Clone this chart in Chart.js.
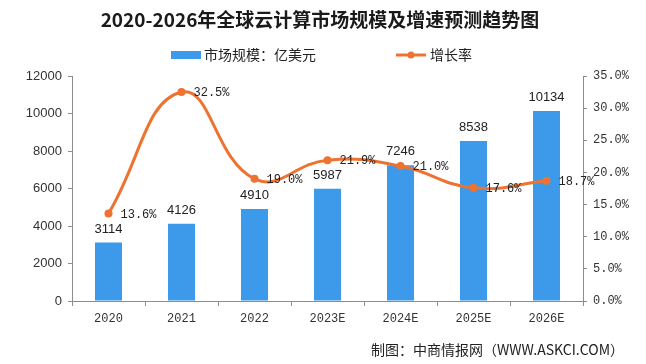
<!DOCTYPE html>
<html>
<head>
<meta charset="utf-8">
<script src="https://cdn.jsdelivr.net/npm/chart.js@4"></script>
<style>
  body { margin: 0; background: #fff; }
  #wrap { width: 646px; height: 364px; }
</style>
</head>
<body>
<div id="wrap"><canvas id="chart" width="646" height="364"></canvas></div>
<script>
const TITLE = '2020-2026年全球云计算市场规模及增速预测趋势图';
const SOURCE = '制图：中商情报网（WWW.ASKCI.COM）';
const years = ['2020', '2021', '2022', '2023E', '2024E', '2025E', '2026E'];
const marketSize = [3114, 4126, 4910, 5987, 7246, 8538, 10134];
const growthRate = [13.6, 32.5, 19.0, 21.9, 21.0, 17.6, 18.7];
const sizeTicks = [0, 2000, 4000, 6000, 8000, 10000, 12000];
const rateTicks = [0, 5, 10, 15, 20, 25, 30, 35];

const BLUE = '#3D9AEA';
const ORANGE = '#EE7230';
const AXIS = '#8c8c8c';

// 标题、图例、来源和数据标签
const decor = {
  id: 'decor',
  afterDatasetsDraw(chart) {
    const ctx = chart.ctx;
    ctx.save();
    // 柱子数值
    const bars = chart.getDatasetMeta(0).data;
    ctx.fillStyle = '#222';
    ctx.font = '13px "Liberation Sans", Arial, sans-serif';
    ctx.textAlign = 'center';
    ctx.textBaseline = 'alphabetic';
    bars.forEach((b, i) => {
      ctx.fillText(String(marketSize[i]), b.x, b.y - 10);
    });
    // 增长率
    const pts = chart.getDatasetMeta(1).data;
    ctx.font = '12px "Liberation Mono", monospace';
    ctx.textAlign = 'left';
    ctx.textBaseline = 'middle';
    pts.forEach((p, i) => {
      ctx.fillText(growthRate[i].toFixed(1) + '%', p.x + 12, p.y + 1);
    });
    ctx.restore();
  },
  afterDraw(chart) {
    const ctx = chart.ctx;
    ctx.save();
    ctx.fillStyle = '#1a1a1a';
    ctx.font = 'bold 19px "Noto Sans CJK SC", sans-serif';
    ctx.textAlign = 'center';
    ctx.textBaseline = 'middle';
    ctx.fillText(TITLE, 320, 20);

    // 图例
    ctx.font = '14px "Noto Sans CJK SC", sans-serif';
    ctx.textAlign = 'left';
    ctx.fillStyle = BLUE;
    ctx.fillRect(171, 51, 30, 8);
    ctx.fillStyle = '#222';
    ctx.fillText(chart.data.datasets[0].label, 204, 55);
    ctx.strokeStyle = ORANGE;
    ctx.lineWidth = 3;
    ctx.beginPath();
    ctx.moveTo(396, 55);
    ctx.lineTo(426, 55);
    ctx.stroke();
    ctx.fillStyle = ORANGE;
    ctx.beginPath();
    ctx.arc(411, 55, 3.5, 0, Math.PI * 2);
    ctx.fill();
    ctx.fillStyle = '#222';
    ctx.fillText(chart.data.datasets[1].label, 430, 55);

    // 来源
    ctx.font = '14px "Noto Sans CJK SC", sans-serif';
    ctx.textAlign = 'right';
    ctx.fillText(SOURCE, 624, 350);
    ctx.restore();
  }
};

new Chart(document.getElementById('chart'), {
  data: {
    labels: years,
    datasets: [
      {
        type: 'bar',
        label: '市场规模：亿美元',
        data: marketSize,
        backgroundColor: BLUE,
        barPercentage: 0.37,
        categoryPercentage: 1,
        yAxisID: 'y',
        order: 1
      },
      {
        type: 'line',
        label: '增长率',
        data: growthRate,
        borderColor: ORANGE,
        backgroundColor: ORANGE,
        borderWidth: 3,
        pointRadius: 4,
        pointBackgroundColor: ORANGE,
        pointBorderWidth: 0,
        tension: 0.45,
        yAxisID: 'y1',
        order: 0
      }
    ]
  },
  options: {
    responsive: false,
    animation: false,
    layout: { padding: { top: 76, left: 0, right: 0, bottom: 0 } },
    plugins: {
      legend: { display: false },
      title: { display: false },
      tooltip: { enabled: false }
    },
    scales: {
      x: {
        offset: true,
        grid: { display: true, drawOnChartArea: false, offset: true, color: AXIS, tickLength: 5 },
        border: { color: AXIS },
        ticks: {
          color: '#333',
          font: { family: '"Liberation Mono", monospace', size: 12 },
          padding: 6,
          maxRotation: 0
        },
        afterFit(s) { s.height = 63; }
      },
      y: {
        position: 'left',
        min: 0,
        max: 12000,
        afterBuildTicks(s) { s.ticks = sizeTicks.map(v => ({ value: v })); },
        grid: { display: true, drawOnChartArea: false, color: AXIS, tickLength: 4 },
        border: { color: AXIS },
        ticks: {
          color: '#333',
          font: { family: '"Liberation Sans", Arial, sans-serif', size: 13 },
          padding: 6,
          callback: v => String(v)
        },
        afterFit(s) { s.width = 72; }
      },
      y1: {
        position: 'right',
        min: 0,
        max: 35,
        afterBuildTicks(s) { s.ticks = rateTicks.map(v => ({ value: v })); },
        grid: { display: true, drawOnChartArea: false, color: AXIS, tickLength: 4 },
        border: { color: AXIS },
        ticks: {
          color: '#333',
          font: { family: '"Liberation Mono", monospace', size: 12 },
          padding: 6,
          callback: v => v.toFixed(1) + '%'
        },
        afterFit(s) { s.width = 63; }
      }
    }
  },
  plugins: [decor]
});
</script>
</body>
</html>
